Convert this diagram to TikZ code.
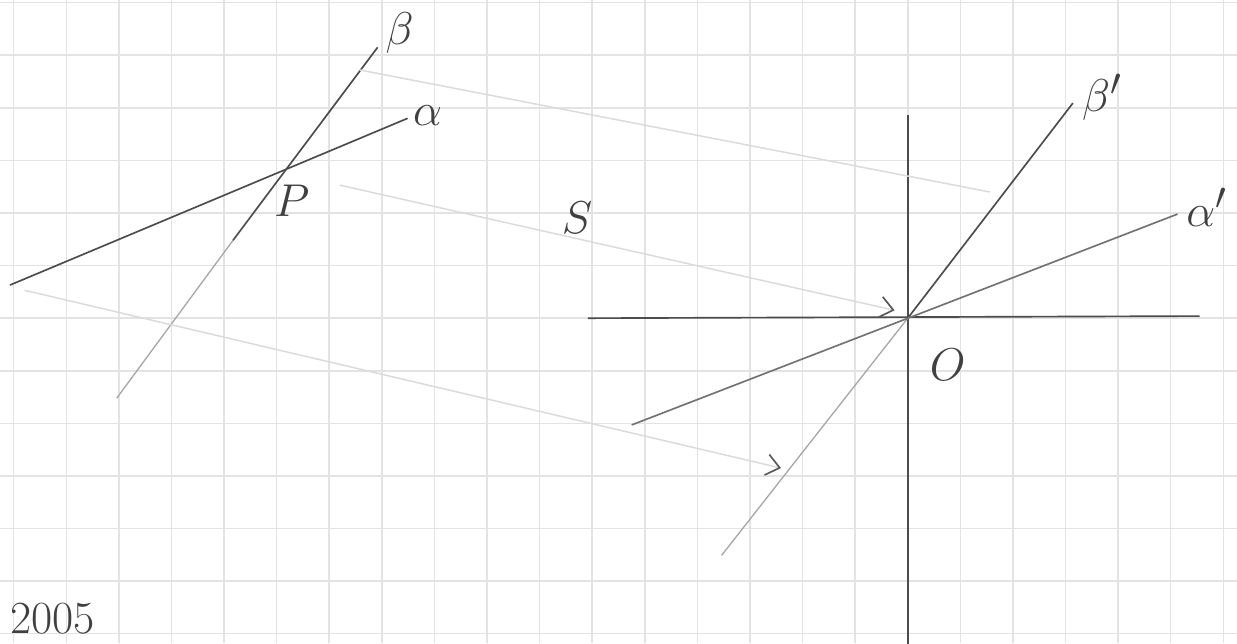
\documentclass[tikz,border=0pt]{standalone}
\usetikzlibrary{arrows.meta}
\begin{document}
\begin{tikzpicture}[x=1cm,y=1cm,
  ink/.style={draw=black!70, line width=0.9pt},
  pale/.style={draw=black!35, line width=0.7pt},
  ray/.style={draw=black!14, line width=0.8pt},
  tip/.style={-{Straight Barb[length=2.5mm,width=4mm,line width=0.9pt,color=black!65]}},
  lbl/.style={text=black!75, font=\Huge}]
\useasboundingbox (-17.26,-6.18) rectangle (6.26,6.05);
\clip (-17.26,-6.18) rectangle (6.26,6.05);
\fill[white] (-17.26,-6.18) rectangle (6.26,6.05);
% paper grid
\draw[black!11, line width=0.8pt] (-17.26,-6.18) grid (6.26,6.05);
% left sketch: the two lines through P
\coordinate (P) at (-11.81,2.83);
\coordinate (b0) at (-15.04,-1.52);
\coordinate (bm) at (-12.83,1.48);
\coordinate (b1) at (-10.08,5.15);
\coordinate (a0) at (-17.07,0.63);
\coordinate (a1) at (-9.51,3.80);
\draw[pale] (b0) -- (bm);
\draw[ink] (bm) -- (b1);
\draw[ink] (a0) -- (a1);
% axes and the images
\coordinate (O) at (0,0);
\coordinate (xl) at (-6.08,0);
\coordinate (xr) at (5.55,0.04);
\coordinate (yt) at (0,3.86);
\coordinate (yb) at (0,-6.3);
\draw[ink] (xl) -- (xr);
\draw[ink] (yt) -- (yb);
\coordinate (bb0) at (-3.54,-4.51);
\coordinate (bb1) at (3.14,4.09);
\coordinate (aa0) at (-5.25,-2.03);
\coordinate (aa1) at (5.13,1.98);
\draw[pale] (bb0) -- (O);
\draw[ink] (O) -- (bb1);
\draw[ink, draw=black!55] (aa0) -- (aa1);
% projection rays along S
\coordinate (r1s) at (-10.42,4.72);
\coordinate (r1e) at (1.56,2.40);
\coordinate (r2s) at (-10.80,2.53);
\coordinate (r2e) at (-0.25,0.15);
\coordinate (r3s) at (-16.79,0.53);
\coordinate (r3e) at (-2.41,-2.85);
\draw[ray] (r1s) -- (r1e);
\draw[ray, tip] (r2s) -- (r2e);
\draw[ray, tip] (r3s) -- (r3e);
% labels
\node[lbl] (lb) at (-9.66,5.42) {$\beta$};
\node[lbl] (la) at (-9.13,3.86) {$\alpha$};
\node[lbl] (lp) at (-11.71,2.24) {$P$};
\node[lbl] (ls) at (-6.29,1.90) {$S$};
\node[lbl] (lbb) at (3.69,4.20) {$\beta'$};
\node[lbl] (laa) at (5.68,2.11) {$\alpha'$};
\node[lbl] (lo) at (0.76,-0.89) {$O$};
\node[lbl, anchor=south west, inner sep=1pt] (yr) at (-17.1,-6.05) {2005};
\end{tikzpicture}
\end{document}
